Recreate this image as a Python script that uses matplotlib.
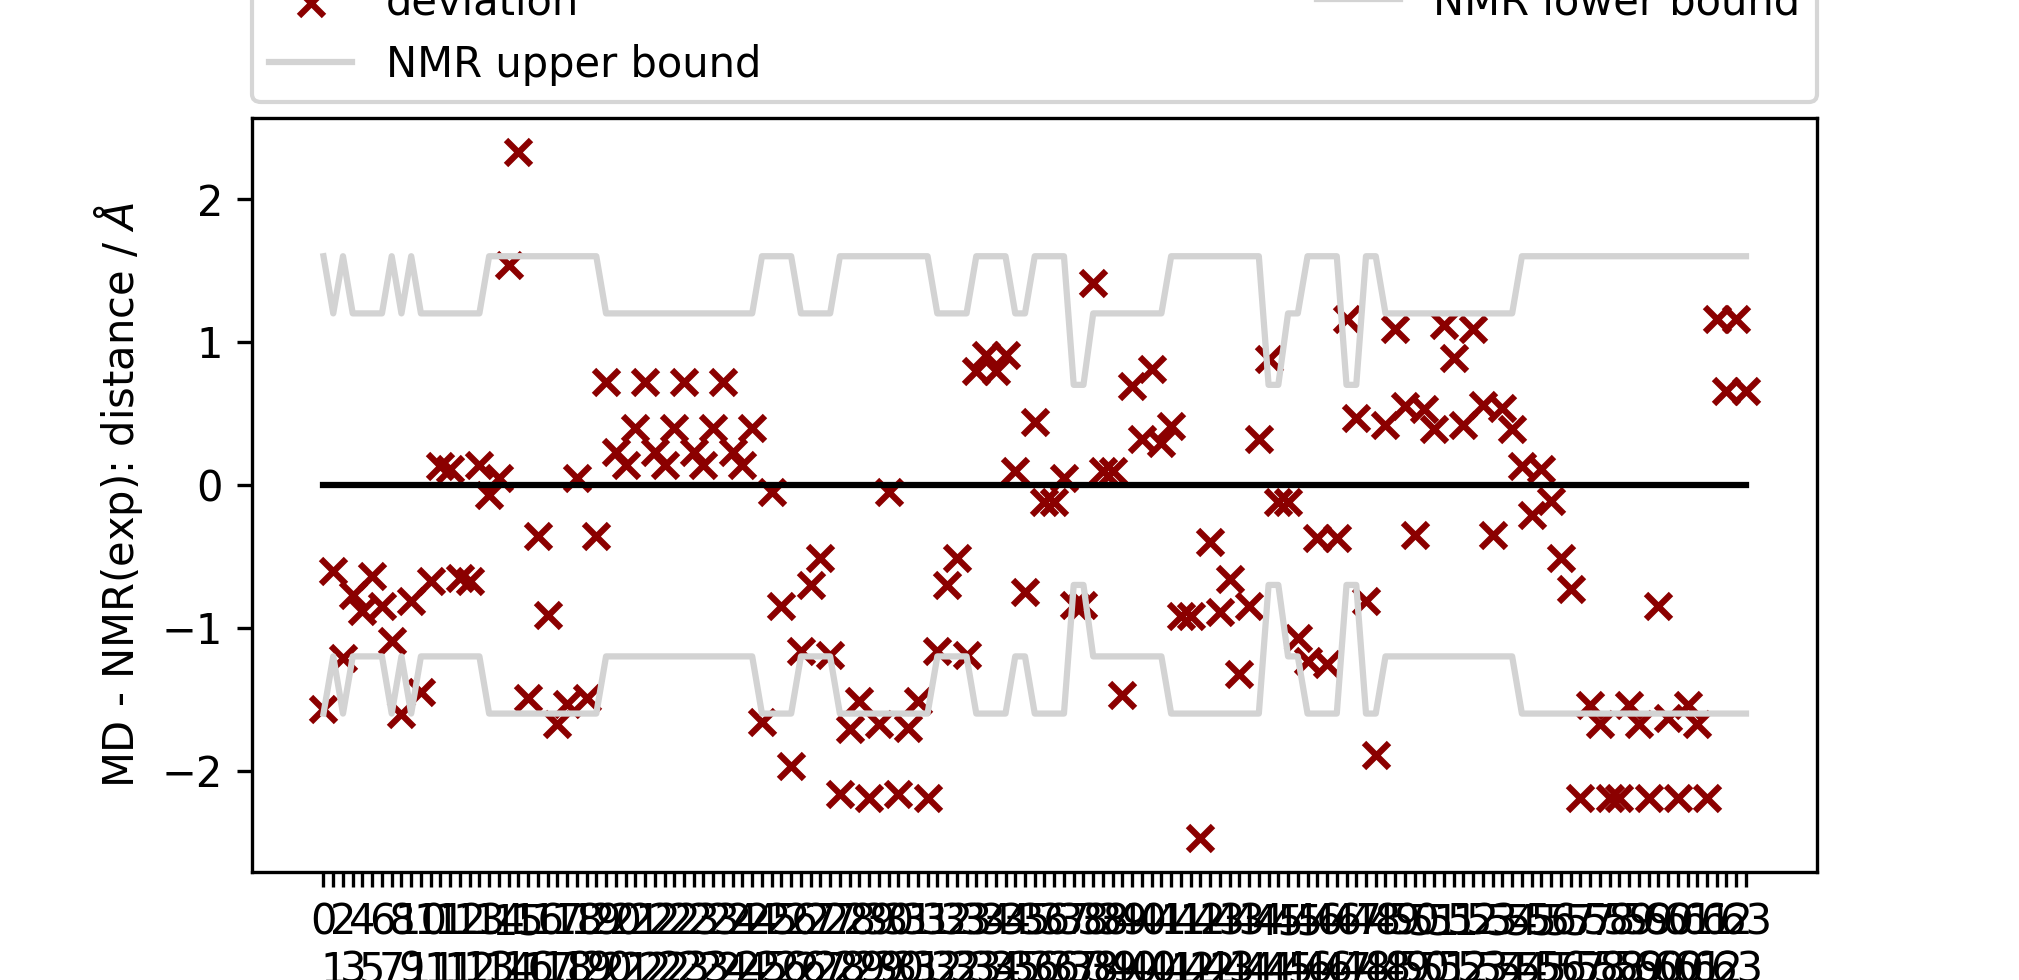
import matplotlib.pyplot as plt

# MD - NMR(exp) deviation per restraint
deviation = [
    -1.57, -0.60, -1.21, -0.77, -0.88, -0.64, -0.85, -1.09, -1.60, -0.81,
    -1.45, -0.67, 0.13, 0.11, -0.65, -0.67, 0.14, -0.07, 0.05, 1.54,
    2.33, -1.49, -0.36, -0.91, -1.67, -1.53, 0.05, -1.49, -0.36, 0.72,
    0.23, 0.14, 0.40, 0.72, 0.23, 0.14, 0.40, 0.72, 0.23, 0.14,
    0.40, 0.72, 0.23, 0.14, 0.40, -1.66, -0.05, -0.85, -1.97, -1.16,
    -0.70, -0.51, -1.19, -2.16, -1.71, -1.51, -2.19, -1.67, -0.05, -2.16,
    -1.70, -1.51, -2.19, -1.16, -0.70, -0.51, -1.19, 0.80, 0.91, 0.80,
    0.91, 0.10, -0.75, 0.44, -0.12, -0.12, 0.05, -0.84, -0.84, 1.41,
    0.10, 0.10, -1.47, 0.69, 0.32, 0.81, 0.29, 0.41, -0.92, -0.92,
    -2.47, -0.40, -0.89, -0.66, -1.32, -0.85, 0.32, 0.88, -0.12, -0.12,
    -1.07, -1.23, -0.37, -1.25, -0.37, 1.16, 0.47, -0.81, -1.89, 0.42,
    1.09, 0.55, -0.35, 0.53, 0.39, 1.12, 0.89, 0.42, 1.09, 0.56,
    -0.35, 0.54, 0.39, 0.13, -0.21, 0.11, -0.11, -0.51, -0.73, -2.19,
    -1.54, -1.67, -2.19, -2.19, -1.54, -1.67, -2.19, -0.85, -1.63, -2.19,
    -1.54, -1.67, -2.19, 1.16, 0.66, 1.16, 0.66,
]

upper_bound = [
    1.6, 1.2, 1.6, 1.2, 1.2, 1.2, 1.2, 1.6, 1.2, 1.6,
    1.2, 1.2, 1.2, 1.2, 1.2, 1.2, 1.2, 1.6, 1.6, 1.6,
    1.6, 1.6, 1.6, 1.6, 1.6, 1.6, 1.6, 1.6, 1.6, 1.2,
    1.2, 1.2, 1.2, 1.2, 1.2, 1.2, 1.2, 1.2, 1.2, 1.2,
    1.2, 1.2, 1.2, 1.2, 1.2, 1.6, 1.6, 1.6, 1.6, 1.2,
    1.2, 1.2, 1.2, 1.6, 1.6, 1.6, 1.6, 1.6, 1.6, 1.6,
    1.6, 1.6, 1.6, 1.2, 1.2, 1.2, 1.2, 1.6, 1.6, 1.6,
    1.6, 1.2, 1.2, 1.6, 1.6, 1.6, 1.6, 0.7, 0.7, 1.2,
    1.2, 1.2, 1.2, 1.2, 1.2, 1.2, 1.2, 1.6, 1.6, 1.6,
    1.6, 1.6, 1.6, 1.6, 1.6, 1.6, 1.6, 0.7, 0.7, 1.2,
    1.2, 1.6, 1.6, 1.6, 1.6, 0.7, 0.7, 1.6, 1.6, 1.2,
    1.2, 1.2, 1.2, 1.2, 1.2, 1.2, 1.2, 1.2, 1.2, 1.2,
    1.2, 1.2, 1.2, 1.6, 1.6, 1.6, 1.6, 1.6, 1.6, 1.6,
    1.6, 1.6, 1.6, 1.6, 1.6, 1.6, 1.6, 1.6, 1.6, 1.6,
    1.6, 1.6, 1.6, 1.6, 1.6, 1.6, 1.6,
]
lower_bound = [-b for b in upper_bound]

# residue number of each restraint, used as tick label
residue = [
    0, 1, 2, 3, 4, 5, 6, 7, 8, 9,
    10, 11, 11, 11, 12, 12, 13, 13, 14, 14,
    15, 16, 16, 17, 17, 18, 18, 19, 19, 20,
    20, 21, 21, 22, 22, 22, 22, 23, 23, 23,
    23, 24, 24, 24, 24, 25, 25, 26, 26, 26,
    27, 27, 27, 28, 28, 29, 29, 29, 30, 30,
    31, 31, 31, 32, 32, 32, 33, 33, 34, 34,
    34, 35, 35, 36, 36, 36, 37, 37, 38, 38,
    38, 39, 39, 40, 40, 40, 41, 41, 41, 42,
    42, 42, 43, 43, 43, 44, 44, 44, 45, 45,
    45, 46, 46, 46, 46, 47, 47, 48, 48, 48,
    49, 49, 50, 50, 51, 51, 51, 52, 52, 53,
    53, 54, 54, 54, 55, 55, 56, 56, 57, 57,
    57, 58, 58, 58, 59, 59, 59, 60, 60, 60,
    61, 61, 61, 62, 62, 63, 63,
]

x = list(range(len(deviation)))

fig, ax = plt.subplots(figsize=(6.73, 3.2667), dpi=300)

ax.scatter(x, deviation, marker="x", color="darkred", label="deviation")
ax.plot(x, upper_bound, color="lightgray", label="NMR upper bound")
ax.plot(x, lower_bound, color="lightgray", label="NMR lower bound")
ax.plot(x, [0] * len(x), color="black")

# stagger labels on two rows so they can be told apart
ax.set_xticks(x)
ax.set_xticklabels([str(r) if i % 2 == 0 else "\n" + str(r)
                    for i, r in enumerate(residue)])
ax.set_ylabel(r"MD - NMR(exp): distance / $\AA$")

ax.legend(bbox_to_anchor=(0., 1.02, 1., .102), loc="lower left",
          ncol=2, mode="expand", borderaxespad=0.)

fig.savefig("out.png")
